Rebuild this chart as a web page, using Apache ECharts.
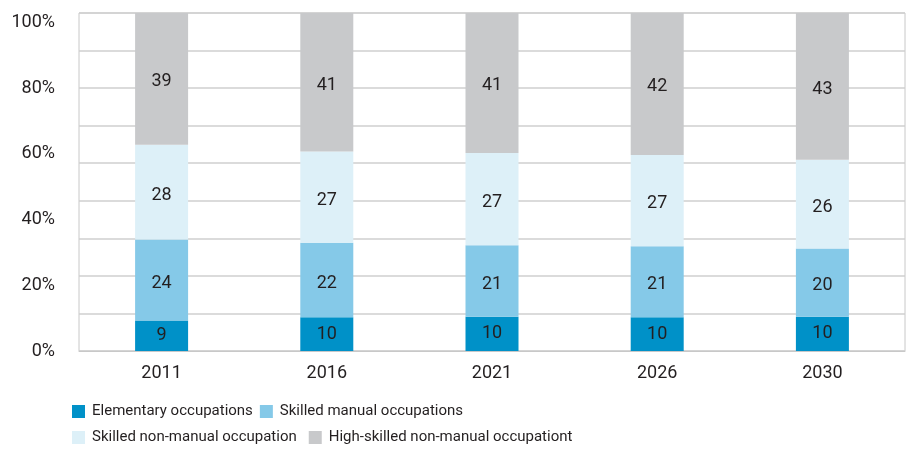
<!DOCTYPE html>
<html>
<head>
<meta charset="utf-8">
<script src="https://cdn.jsdelivr.net/npm/echarts@6/dist/echarts.min.js"></script>
<style>
html,body{margin:0;padding:0;background:#fff;}
#chart{width:908px;height:455px;}
</style>
</head>
<body>
<div id="chart"></div>
<script>
const categories = ['2011', '2016', '2021', '2026', '2030'];
const seriesNames = ['Elementary occupations', 'Skilled manual occupations', 'Skilled non-manual occupation', 'High-skilled non-manual occupationt'];
const elementary = [9, 10, 10, 10, 10];
const skilledManual = [24, 22, 21, 21, 20];
const skilledNonManual = [28, 27, 27, 27, 26];
const highSkilled = [39, 41, 41, 42, 43];
const yTickLabels = [0, 20, 40, 60, 80, 100];

const rawSeries = [elementary, skilledManual, skilledNonManual, highSkilled];
const colors = ['#0091c8', '#85c9e8', '#ddf0f8', '#c8c9cb'];
const FONT = "'Roboto', sans-serif";
const TXT = '#231f20';

const totals = categories.map((_, i) => rawSeries.reduce((s, a) => s + a[i], 0));

const series = rawSeries.map((arr, k) => ({
  name: seriesNames[k],
  type: 'bar',
  stack: 'total',
  yAxisIndex: 0,
  barWidth: 53,
  itemStyle: { color: colors[k] },
  data: arr.map((v, i) => v / totals[i] * 100),
  label: {
    show: true,
    position: 'inside',
    offset: k === 0 ? [0, 0] : [0, 3],
    color: TXT,
    fontFamily: FONT,
    fontSize: 18,
    formatter: p => String(arr[p.dataIndex])
  },
  emphasis: { disabled: true },
  animation: false
}));

const legendRow = (names, top, gap) => ({
  data: names,
  left: 72,
  top: top,
  orient: 'horizontal',
  icon: 'rect',
  itemWidth: 13,
  itemHeight: 13,
  itemGap: gap,
  padding: 0,
  selectedMode: false,
  textStyle: { color: TXT, fontFamily: FONT, fontSize: 15, padding: [0, 0, 0, 2] }
});

const chart = echarts.init(document.getElementById('chart'), null, { renderer: 'canvas' });
chart.setOption({
  animation: false,
  color: colors,
  grid: { left: 79, right: 3, top: 13, bottom: 104, show: true, borderColor: '#c8c8c8', borderWidth: 1 },
  legend: [
    legendRow(seriesNames.slice(0, 2), 404, 7),
    legendRow(seriesNames.slice(2, 4), 430, 12)
  ],
  xAxis: {
    type: 'category',
    data: categories,
    axisLine: { lineStyle: { color: '#c8c8c8', width: 1 } },
    axisTick: { show: false },
    axisLabel: { color: TXT, fontFamily: FONT, fontSize: 18, margin: 13 }
  },
  yAxis: [
    {
      type: 'value', min: 0, max: 100, interval: 100 / 9,
      axisLabel: { show: false },
      axisLine: { show: false }, axisTick: { show: false },
      splitLine: { lineStyle: { color: '#cfcfcf', width: 1.5 } }
    },
    {
      type: 'value', position: 'left', min: 0, max: 102.86, interval: 20,
      axisLine: { show: false }, axisTick: { show: false }, splitLine: { show: false },
      axisLabel: {
        color: TXT, fontFamily: FONT, fontSize: 18, margin: 24, showMaxLabel: false,
        formatter: v => (yTickLabels.indexOf(v) >= 0 ? v + '%' : '')
      }
    }
  ],
  series: series
});
</script>
</body>
</html>
